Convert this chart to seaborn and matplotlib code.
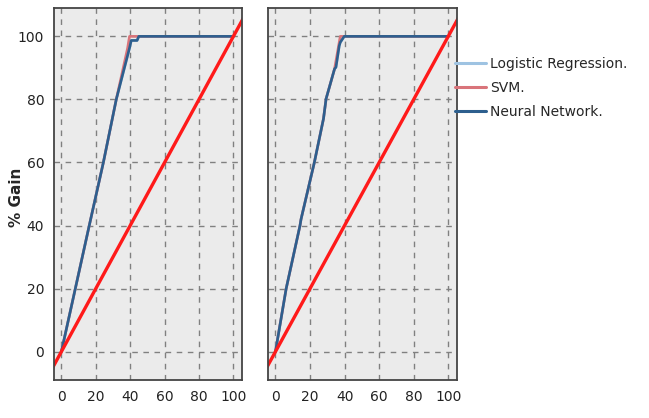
import pandas as pd
import matplotlib
matplotlib.use("Agg")
import matplotlib.pyplot as plt
import seaborn as sns

# ---------- Gain curves ----------
models = ["Logistic Regression.", "SVM.", "Neural Network."]
colors = ["#9ec3e2", "#d9747a", "#2d5f8e"]

left_lr_x = [0, 8.1, 16.2, 24.4, 31.9, 39.6, 40.6, 44, 45, 100]
left_lr_y = [0, 20, 40, 60, 80, 96.3, 98.7, 98.7, 100, 100]
left_svm_x = [0, 8.1, 16.2, 24.4, 31.9, 38.5, 39.6, 100]
left_svm_y = [0, 20, 40, 60, 80, 96.3, 100, 100]
left_nn_x = [0, 8.1, 16.2, 24.4, 31.9, 39.6, 40.6, 44, 45, 100]
left_nn_y = [0, 20, 40, 60, 80, 96.3, 98.7, 98.7, 100, 100]

right_lr_x = [0, 0.8, 6.2, 14.2, 14.8, 22.5, 27.8, 29.3, 34.2, 35, 36.9, 37.5, 39.8, 100]
right_lr_y = [0, 2.6, 20, 40, 42, 60, 73.9, 80.2, 89.7, 90.2, 97, 98.1, 100, 100]
right_svm_x = [0, 0.8, 6.2, 14.2, 14.8, 22.5, 27.8, 29.3, 34.2, 37.5, 100]
right_svm_y = [0, 2.6, 20, 40, 42, 60, 73.9, 80.2, 89.7, 100, 100]
right_nn_x = [0, 0.8, 6.2, 14.2, 14.8, 22.5, 27.8, 29.3, 34.2, 35, 36.9, 37.5, 39.8, 100]
right_nn_y = [0, 2.6, 20, 40, 42, 60, 73.9, 80.2, 89.7, 90.2, 97, 98.1, 100, 100]

baseline_x = [-10, 110]
baseline_y = [-10, 110]

ticks = [0, 20, 40, 60, 80, 100]


def make_df(parts):
    rows = []
    for model, xs, ys in parts:
        for i, (x, y) in enumerate(zip(xs, ys)):
            rows.append({"Model": model, "order": i, "x": x, "y": y})
    return pd.DataFrame(rows)


left_df = make_df([(models[0], left_lr_x, left_lr_y),
                   (models[1], left_svm_x, left_svm_y),
                   (models[2], left_nn_x, left_nn_y)])
right_df = make_df([(models[0], right_lr_x, right_lr_y),
                    (models[1], right_svm_x, right_svm_y),
                    (models[2], right_nn_x, right_nn_y)])
base_df = pd.DataFrame({"x": baseline_x, "y": baseline_y})

# ---------- Plot ----------
sns.set_style("whitegrid", {"axes.facecolor": "#ebebeb",
                            "axes.edgecolor": "#444444",
                            "grid.color": "#808080",
                            "grid.linestyle": (0, (4, 4))})
plt.rcParams["font.family"] = ["DejaVu Sans"]

fig = plt.figure(figsize=(6.49, 4.18), dpi=100)
ax1 = fig.add_axes([0.0832, 0.0909, 0.2897, 0.89])
ax2 = fig.add_axes([0.413, 0.0909, 0.291, 0.89])

palette = dict(zip(models, colors))
for ax, df in [(ax1, left_df), (ax2, right_df)]:
    sns.lineplot(data=df, x="x", y="y", hue="Model", hue_order=models,
                 palette=palette, sort=False, estimator=None, units="Model",
                 linewidth=1.9, ax=ax, legend=False)
    sns.lineplot(data=base_df, x="x", y="y", color="#ff1a1a", linewidth=2.4,
                 ax=ax, legend=False)
    ax.set_xlim(-4.3, 105)
    ax.set_ylim(-9, 109)
    ax.set_xticks(ticks)
    ax.set_yticks(ticks)
    ax.grid(True, linewidth=1.0)
    ax.set_xlabel("")
    ax.set_ylabel("")
    for s in ax.spines.values():
        s.set_linewidth(1.3)
    ax.tick_params(axis="both", direction="out", length=5, width=1.0,
                   color="#444444", labelsize=10, labelcolor="#222222", pad=2)

ax1.set_ylabel("% Gain", fontsize=11, fontweight="bold")
ax1.yaxis.set_label_coords(-0.16, 0.49)
ax2.tick_params(axis="y", left=False, labelleft=False)

handles = [plt.Line2D([], [], color=c, linewidth=2.2) for c in colors]
fig.legend(handles, models, loc="upper left", bbox_to_anchor=(0.693, 0.878),
           frameon=False, fontsize=10, handlelength=2.2, handletextpad=0.3,
           labelspacing=0.72, borderaxespad=0)

fig.savefig("out.png", dpi=100)
